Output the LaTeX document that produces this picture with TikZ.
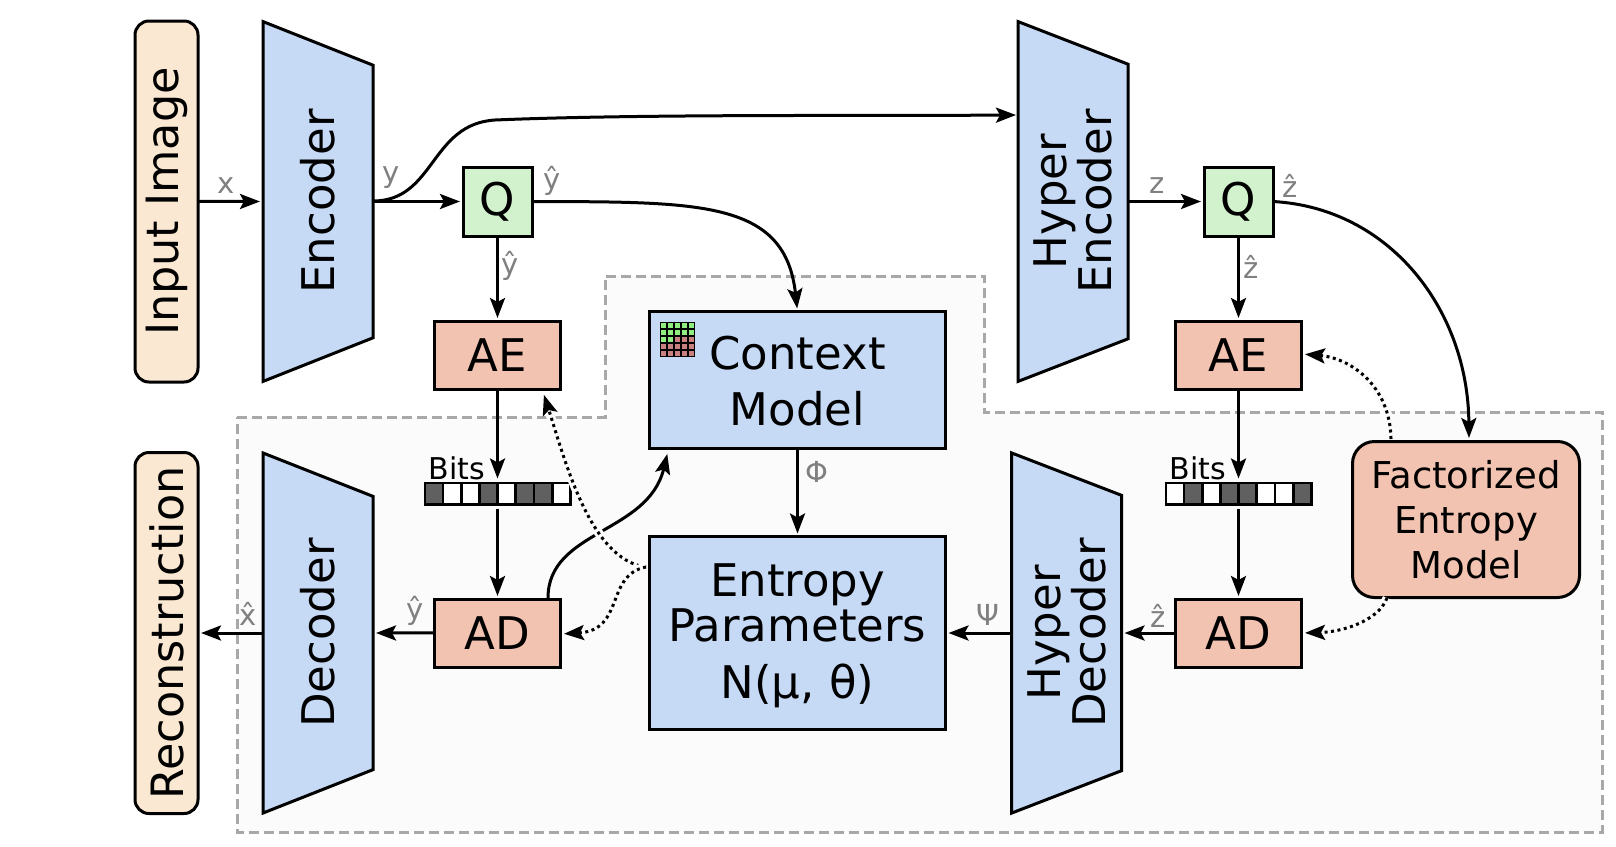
\documentclass[tikz,border=0pt]{standalone}
\usepackage{fontspec}
\setmainfont{DejaVu Sans}
\usetikzlibrary{shapes.geometric,arrows.meta}
\definecolor{blockblue}{HTML}{C6DAF6}
\definecolor{blocksalmon}{HTML}{F3C3B2}
\definecolor{blockgreen}{HTML}{D2F2CE}
\definecolor{blockcream}{HTML}{FAE8D2}
\definecolor{regionfill}{HTML}{FBFBFB}
\definecolor{regionline}{HTML}{A8A8A8}
\definecolor{labelgray}{HTML}{808080}
\definecolor{bitdark}{HTML}{606060}
\definecolor{gridgreen}{HTML}{90EE80}
\definecolor{gridred}{HTML}{C88080}
\begin{document}
\begin{tikzpicture}[
    x=1pt, y=-1pt,
    >={Stealth[length=20pt,width=15pt,inset=4pt]},
    base/.style={draw, line width=3pt, inner sep=0pt, outer sep=0pt, font=\fontsize{45}{45}\selectfont, align=center},
    trap/.style={base, trapezium, fill=blockblue, trapezium stretches=true, minimum width=361pt, minimum height=110pt, rotate=90, shape border rotate=180, trapezium angle=#1},
    io/.style={base, rectangle, rounded corners=14pt, fill=blockcream, minimum width=361pt, minimum height=63pt, rotate=90, font=\fontsize{44.5}{45}\selectfont},
    quant/.style={base, rectangle, fill=blockgreen, minimum width=69pt, minimum height=69pt},
    coder/.style={base, rectangle, fill=blocksalmon, minimum width=126pt, minimum height=68pt},
    block/.style={base, rectangle, fill=blockblue, minimum width=296pt},
    bitbar/.style={rectangle, fill=black, inner sep=0pt, outer sep=0pt, minimum width=148pt, minimum height=24pt},
    bitcell/.style={rectangle, inner sep=0pt, minimum width=15.5pt, minimum height=19pt},
    gridcell/.style={rectangle, inner sep=0pt, minimum size=5.8pt},
    lbl/.style={text=labelgray, font=\fontsize{29}{29}\selectfont, inner sep=0pt},
    line/.style={draw, ->, line width=3pt, shorten >=3pt},
    dots/.style={draw, ->, line width=3pt, dash pattern=on 3pt off 3.5pt, shorten >=3pt, preaction={draw=regionfill, line width=9pt, solid, arrows=-}},
    region/.style={draw=regionline, fill=regionfill, line width=3pt, dash pattern=on 10pt off 5pt}
]
    \useasboundingbox (0,0) rectangle (1616,846);

    \path [region] (237,417) -- (605,417) -- (605,276) -- (984,276) -- (984,412) -- (1602,412) -- (1602,832) -- (237,832) -- cycle;

    \node [io] (input) at (166.5,201.5) {Input Image};
    \node [trap=49.8] (enc) at (318,201.5) {Encoder};
    \node [quant] (qy) at (497.5,201.5) {Q};
    \node [coder] (aey) at (497.5,355) {AE};
    \node [block, minimum height=137pt] (ctx) at (797.5,380) {\rule{0pt}{36pt}Context\\[11pt]Model};
    \node [trap=70] (henc) at (1073,201.5) {Hyper\\Encoder};
    \node [quant] (qz) at (1238.5,201.5) {Q};
    \node [coder] (aez) at (1238.5,355) {AE};

    \node [io] (recon) at (166.5,633) {Reconstruction};
    \node [trap=49.2] (dec) at (318,633) {Decoder};
    \node [coder] (ady) at (497.5,633) {AD};
    \node [block, minimum height=193pt] (ent) at (797.5,633) {\rule{0pt}{39pt}Entropy\\Parameters\\[12pt]N(μ, θ)};
    \node [trap=69.6] (hdec) at (1066.5,633) {Hyper\\Decoder};
    \node [coder] (adz) at (1238.5,633) {AD};
    \node [base, rectangle, rounded corners=22pt, fill=blocksalmon, minimum width=227pt, minimum height=156pt, font=\fontsize{37}{45}\selectfont] (fact) at (1466,519.5) {Factorized\\Entropy\\Model};

    \node [bitbar] (bitsy) at (497.5,493.5) {};
    \foreach \i/\c in {0/bitdark,1/white,2/white,3/bitdark,4/white,5/bitdark,6/bitdark,7/white}
        \node [bitcell, fill=\c] (bitsy\i) at ({433.85+18.2*\i},493.5) {};
    \node [bitbar] (bitsz) at (1238.5,493.5) {};
    \foreach \i/\c in {0/white,1/bitdark,2/white,3/bitdark,4/bitdark,5/white,6/white,7/bitdark}
        \node [bitcell, fill=\c] (bitsz\i) at ({1174.85+18.2*\i},493.5) {};
    \node [font=\fontsize{30}{30}\selectfont, inner sep=0pt] (bitsylbl) at (457,468) {Bits};
    \node [font=\fontsize{30}{30}\selectfont, inner sep=0pt] (bitszlbl) at (1198,468) {Bits};

    \fill [black] (660,322) rectangle (695,357);
    \foreach \r/\n in {0/5,1/5,2/2,3/0,4/0}
        \foreach \k in {0,...,4} {
            \pgfmathsetmacro{\cellcol}{\k<\n ? "gridgreen" : "gridred"}
            \node [gridcell, fill=\cellcol] (grid\r\k) at ({663.5+7*\k},{325.5+7*\r}) {};
        }

    \coordinate (tohenc) at (1019,115);
    \coordinate (toctx) at (668,451);
    \coordinate (fromady) at (548,598);
    \coordinate (froment) at (646,567);
    \coordinate (toaey) at (543,392);
    \coordinate (toady) at (561,634);
    \coordinate (fromfacta) at (1391,439);
    \coordinate (fromfactb) at (1387,598);
    \coordinate (toaez) at (1302,354);
    \coordinate (toadz) at (1302,633);
    \coordinate (tofact) at (1469,441);

    \draw [line] (input) -- (enc);
    \draw [line] (enc) -- (qy);
    \draw [line] (qy) -- (aey);
    \draw [line] (aey) -- (bitsy);
    \draw [line, shorten <=3pt] (bitsy) -- (ady);
    \draw [line] (ady) -- (dec);
    \draw [line] (dec) -- (recon);
    \draw [line] (ctx) -- (ent);
    \draw [line] (hdec) -- (ent);
    \draw [line] (adz) -- (hdec);
    \draw [line] (henc) -- (qz);
    \draw [line] (qz) -- (aez);
    \draw [line] (aez) -- (bitsz);
    \draw [line, shorten <=3pt] (bitsz) -- (adz);
    \draw [line] (373,201) .. controls (435,201) and (430,124) .. (495,120) .. controls (640,114) and (850,116) .. (tohenc);
    \draw [line] (qy.east) .. controls (700,202) and (785,200) .. (ctx.north);
    \draw [line] (qz.east) .. controls (1390,208) and (1468,310) .. (tofact);
    \draw [line] (fromady) .. controls (548,530) and (648,534) .. (toctx);

    \draw [dots] (froment) .. controls (590,560) and (565,460) .. (toaey);
    \draw [dots] (froment) .. controls (605,575) and (625,630) .. (toady);
    \draw [dots] (fromfacta) .. controls (1390,385) and (1350,358) .. (toaez);
    \draw [dots] (fromfactb) .. controls (1378,622) and (1340,632) .. (toadz);

    \node [lbl] (lblx) at (226,186) {x};
    \node [lbl] (lbly) at (391,178) {y};
    \node [lbl] (lblyq) at (552,181) {ŷ};
    \node [lbl] (lblyd) at (510,266) {ŷ};
    \node [lbl] (lblz) at (1157,186) {z};
    \node [lbl] (lblzq) at (1290,186) {ẑ};
    \node [lbl] (lblzd) at (1251,267) {ẑ};
    \node [lbl] (lblphi) at (817,472) {Φ};
    \node [lbl] (lblpsi) at (988,615) {Ψ};
    \node [lbl] (lblzh) at (1158,616) {ẑ};
    \node [lbl] (lblyh) at (415,611) {ŷ};
    \node [lbl] (lblxh) at (248,614) {x̂};
\end{tikzpicture}
\end{document}
